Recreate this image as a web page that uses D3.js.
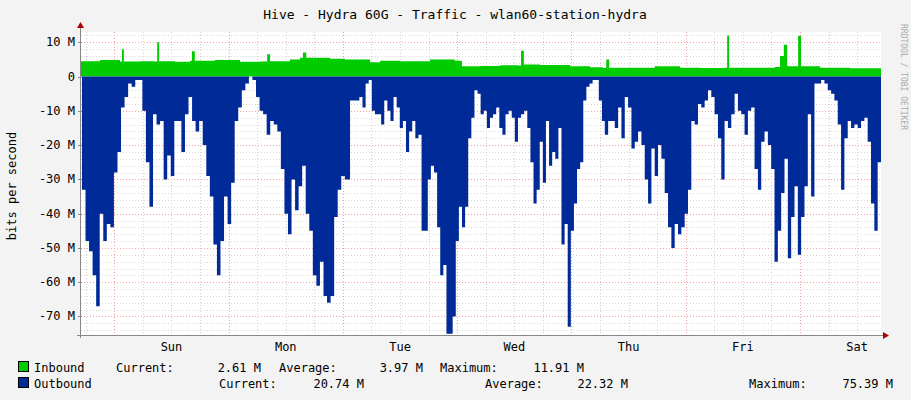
<!DOCTYPE html>
<html><head><meta charset="utf-8">
<script src="https://cdn.jsdelivr.net/npm/d3@7"></script>
<style>body{margin:0;background:#f3f3f3}text{font-family:"DejaVu Sans Mono",monospace}</style>
</head><body>
<svg id="c" width="911" height="400"></svg>
<script>
// Outbound (M bits/s), three evenly spaced segments across the week (hours)
const outSeg1 = [-33,-48,-51,-58,-67,-40,-48,-43,-44,-28,-22,-9,-6,-2,-3,-1,-1,-10,-25,-38,-11,-14,-13,-30,-23,-29,-13,-13,-22,-11,-6,-13,-16,-13,-20,-29,-35,-49,-58,-48,-35,-43,-31,-13,-9,-4,-2,0,-1,-6,-10,-11,-17,-13,-14,-16,-27,-40,-46,-30,-39,-32,-26,-40,-45,-58,-61,-54,-64,-66,-64,-41,-33,-29,-30];
const outSeg2 = [-7,-7,-7,-6,-9,-2,-1,-10,-11,-11,-14,-7,-10,-13,-6,-9,-15,-13,-22,-16,-13,-18,-17,-45,-45,-30,-26,-28,-44,-58,-55,-75,-75,-70,-48,-38,-44,-38,-18,-12,-4,-5,-11,-10,-15,-12,-11,-9,-15,-17,-11,-10,-12,-19,-12,-11,-10,-15,-25,-37,-33,-19,-31,-13,-26,-22,-24,-15,-49,-43,-73,-45,-37,-27,-25,-7,-3,-2,-1,-1,-7,-13,-17,-13];
const outSeg3 = [-17,-11,-13,-15,-9,-18,-6,-9,-21,-19,-16,-20,-30,-37,-21,-29,-20,-24,-34,-44,-50,-43,-46,-44,-40,-33,-13,-14,-8,-9,-7,-4,-6,-11,-18,-30,-13,-15,-11,-5,-10,-11,-17,-10,-9,-27,-33,-19,-16,-20,-27,-54,-45,-34,-24,-53,-41,-32,-52,-41,-32,-11,-35,-2,-2,-1,-2,-4,-5,-7,-14,-33,-18,-13,-15,-14,-15,-13,-12,-19,-37,-45,-25,-20];
const segHours = [[0.2,55.4],[56.5,110.7],[110.0,168]];
// Inbound
const inHours = [0,4.0,8.2,8.6,9.0,12.4,15.5,16.0,16.4,19.7,22.9,23.3,23.9,28.1,33.4,37.6,39.1,39.7,43.9,46.0,46.6,47.3,52.3,55.4,60.7,62.8,67.0,73.3,78.5,80.0,83.8,88.0,91.8,92.4,93.0,96.4,102.7,106.9,109.6,110.3,110.9,115.3,120.5,125.8,130.0,135.2,135.7,136.1,142.6,145.7,146.8,147.6,148.3,150.2,150.6,151.2,155.2,161.5,168];
const inValues = [4.5,4.8,4.4,8,4.4,4.5,4.4,10,4.5,4.3,4.6,7.4,4.6,4.8,4.3,4.4,6.5,4.5,5,5.5,7,5.5,5.2,5,4.2,4.6,4.5,5,4.6,3,3.1,3.3,3.2,7.5,3.5,3.4,3,2.7,2.5,5,2.6,2.6,3,2.6,2.5,2.6,12,2.6,2.6,2.8,6,9.3,3,3,11.9,3,2.6,2.4,2.6];
const dayLabels = ["Sun","Mon","Tue","Wed","Thu","Fri","Sat"];
const yTicks = [10,0,-10,-20,-30,-40,-50,-60,-70];
const legendRows = [
  {name:"Inbound", color:"#00cc00", cur:"2.61 M", avg:"3.97 M", max:"11.91 M"},
  {name:"Outbound", color:"#002a97", cur:"20.74 M", avg:"22.32 M", max:"75.39 M"}
];

const svg = d3.select("#c");
const L=81,R=881,T=32,B=335;
const x = d3.scaleLinear().domain([0,168]).range([L,R]);
const y = d3.scaleLinear().domain([-75.4,13]).range([B,T]);

svg.append("rect").attr("x",L).attr("y",T).attr("width",R-L).attr("height",B-T).attr("fill","#fff");

// grid
const minorY = d3.range(-74,13,2);
svg.selectAll(".gy").data(minorY).enter().append("line")
  .attr("x1",L).attr("x2",R).attr("y1",d=>Math.round(y(d))+0.5).attr("y2",d=>Math.round(y(d))+0.5)
  .attr("stroke",d=>d%10===0?"#f4a0a0":"#d8d8d8").attr("stroke-dasharray","1,2");
const minorX = d3.range(1,168,6);
svg.selectAll(".gx").data(minorX).enter().append("line")
  .attr("y1",T).attr("y2",B).attr("x1",d=>Math.round(x(d))+0.5).attr("x2",d=>Math.round(x(d))+0.5)
  .attr("stroke",d=>(d-7)%24===0?"#f4a0a0":"#d0d0d0").attr("stroke-dasharray","1,2");

// data
const outData=[];
[outSeg1,outSeg2,outSeg3].forEach((s,i)=>{const [a,b]=segHours[i];s.forEach((v,j)=>outData.push({t:a+(b-a)*j/(s.length-1),v}));});
outData.sort((a,b)=>a.t-b.t);
const inData = inHours.map((t,i)=>({t,v:inValues[i]}));
const area = d3.area().curve(d3.curveStepAfter).x(d=>x(d.t)).y0(y(0)).y1(d=>y(d.v));
svg.append("path").datum(inData).attr("d",area).attr("fill","#00cc00");
svg.append("path").datum(outData).attr("d",area).attr("fill","#002a97");

// axes
svg.append("line").attr("x1",L-4).attr("x2",R+2).attr("y1",B+0.5).attr("y2",B+0.5).attr("stroke","#888");
svg.append("line").attr("x1",L-0.5).attr("x2",L-0.5).attr("y1",T-6).attr("y2",B+3).attr("stroke","#888");
svg.append("path").attr("d",`M${R+2},${B-3}L${R+8},${B+0.5}L${R+2},${B+4}Z`).attr("fill","#a00");
svg.append("path").attr("d",`M${L-4},${T-4}L${L-0.5},${T-10}L${L+3},${T-4}Z`).attr("fill","#a00");
svg.selectAll(".yt").data(yTicks).enter().append("text")
  .attr("x",75).attr("y",d=>y(d)+4).attr("text-anchor","end").attr("font-size",12).attr("fill","#000")
  .text(d=>d===0?"0":d+" M");
svg.selectAll(".xt").data(dayLabels).enter().append("text")
  .attr("x",(d,i)=>x(19+24*i)).attr("y",351).attr("text-anchor","middle").attr("font-size",12).text(d=>d);
svg.selectAll(".yk").data(yTicks).enter().append("line").attr("x1",L-3).attr("x2",L+1)
  .attr("y1",d=>Math.round(y(d))+0.5).attr("y2",d=>Math.round(y(d))+0.5).attr("stroke","#888");

// title/labels
svg.append("text").attr("x",455).attr("y",19).attr("text-anchor","middle").attr("font-size",13).text("Hive - Hydra 60G - Traffic - wlan60-station-hydra");
svg.append("text").attr("transform","translate(16,186) rotate(-90)").attr("text-anchor","middle").attr("font-size",12).text("bits per second");
svg.append("text").attr("transform","translate(901,24) rotate(90)").attr("font-size",8).attr("fill","#aaa").text("RRDTOOL / TOBI OETIKER");

// legend
const lx = [[34,116,261,279,423,440,584],[34,219,364,485,628,749,893]];
legendRows.forEach((r,i)=>{
  const yy=372+i*16, p=lx[i];
  svg.append("rect").attr("x",18.5).attr("y",yy-10.5).attr("width",10).attr("height",10).attr("fill",r.color).attr("stroke","#000");
  const t=(xx,s,a)=>svg.append("text").attr("x",xx).attr("y",yy).attr("font-size",12).attr("text-anchor",a||"start").attr("xml:space","preserve").text(s);
  t(p[0],r.name);t(p[1],"Current:");t(p[2],r.cur,"end");t(p[3],"Average:");t(p[4],r.avg,"end");t(p[5],"Maximum:");t(p[6],r.max,"end");
});
</script>
</body></html>
